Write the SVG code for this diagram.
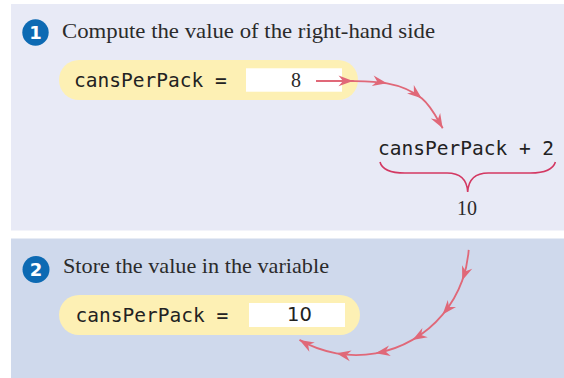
<svg xmlns="http://www.w3.org/2000/svg" width="564" height="378" viewBox="0 0 564 378">
<defs>
<style>
.title{font-family:"Liberation Serif","Times New Roman",serif;font-size:22px;fill:#2b2b2b}
.num{font-family:"Liberation Serif","Times New Roman",serif;font-size:20px;fill:#2b2b2b}
.mono{font-family:"DejaVu Sans Mono","Liberation Mono",monospace;font-size:19.5px;fill:#222}
.sans{font-family:"DejaVu Sans","Liberation Sans",sans-serif;font-size:19.5px;fill:#222}
.badge{fill:#0d6ab3}
.badgeText{font-family:"DejaVu Sans","Liberation Sans",sans-serif;font-size:18px;font-weight:bold;fill:#fff}
.pill{fill:#fdf0b4}
.box{fill:#fff}
.arrow{fill:none;stroke:#e06878;stroke-width:1.8}
.brace{fill:none;stroke:#d33862;stroke-width:1.6}
</style>
<marker id="ah" markerUnits="userSpaceOnUse" viewBox="-16 -7 18 14" refX="0" refY="0" markerWidth="18" markerHeight="14" orient="auto">
<path d="M0,0 L-14.5,-5.4 L-10,0 L-14.5,5.4 Z" fill="#e06878"/>
</marker>
</defs>
<rect x="0" y="0" width="564" height="378" fill="#fff"/>
<rect x="11" y="4" width="553" height="226.5" fill="#e8eaf6"/>
<rect x="11" y="238.5" width="553" height="139.5" fill="#cfd9ec"/>

<g id="step1">
<circle class="badge" cx="35.5" cy="32.5" r="13.2"/>
<text class="badgeText" x="35.5" y="39" text-anchor="middle">1</text>
<text class="title" x="62" y="38" textLength="373" lengthAdjust="spacingAndGlyphs">Compute the value of the right-hand side</text>
</g>

<g id="var1">
<rect class="pill" x="59" y="60" width="299" height="40" rx="20"/>
<rect class="box" x="246" y="68.3" width="96" height="23.4"/>
<text class="mono" x="74" y="87">cansPerPack =</text>
<text class="num" x="291" y="87">8</text>
</g>

<g id="expr">
<text class="mono" x="378" y="155">cansPerPack + 2</text>
<path class="brace" d="M380,162 C382,170 392,173 405,173 L447,173 C460,173 467,179 467.7,192 C468.4,179 475.4,173 488.4,173 L530.4,173 C543.4,173 553,170 555.4,162"/>
<text class="num" x="457" y="215">10</text>
</g>

<g id="step2">
<circle class="badge" cx="36" cy="269.5" r="13.5"/>
<text class="badgeText" x="36" y="276" text-anchor="middle">2</text>
<text class="title" x="63" y="273" textLength="266" lengthAdjust="spacingAndGlyphs">Store the value in the variable</text>
</g>

<g id="var2">
<rect class="pill" x="59" y="295" width="301" height="40" rx="20"/>
<rect class="box" x="249" y="303" width="96" height="24"/>
<text class="mono" x="75.5" y="322">cansPerPack =</text>
<text class="sans" x="287" y="321">10</text>
</g>

<g id="connectors">
<path class="arrow" marker-mid="url(#ah)" marker-end="url(#ah)" d="M316,81 L353,81 C364.5,81.2 375.7,81.3 387,83.3 C399.4,85.5 411.9,90.4 421.7,98.3 C431.2,106 436.6,117.7 442.7,128.3"/>
<path class="arrow" marker-mid="url(#ah)" marker-end="url(#ah)" d="M468.7,249.9 A113,113 0 0 1 462.2,280.6 A113,113 0 0 1 442.6,314.6 A113,113 0 0 1 412.5,339.9 A113,113 0 0 1 375.6,353.3 A113,113 0 0 1 336.4,353.3 A113,113 0 0 1 299.5,339.9"/>
</g>
</svg>
